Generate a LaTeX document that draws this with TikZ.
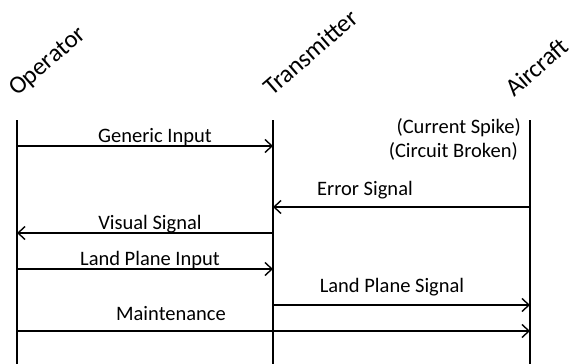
\documentclass[tikz,border=0pt]{standalone}
\usepackage{fontspec}
\setmainfont{Carlito}
\usetikzlibrary{arrows.meta}
\begin{document}
\begin{tikzpicture}[x=1pt,y=-1pt,
  lifeline/.style={line width=1.6pt},
  msg/.style={line width=1.4pt,-{Straight Barb[length=7pt,width=13pt,line width=1.4pt]}},
  actor/.style={font=\fontsize{25}{29}\selectfont,rotate=41,anchor=base west,inner sep=0pt},
  lbl/.style={font=\fontsize{20.5}{24}\selectfont,inner sep=0pt,anchor=base}]
\useasboundingbox (0,0) rectangle (579,364);

% actors
\node[actor] (opH) at (17,97) {Operator};
\node[actor] (trH) at (272,97) {Transmitter};
\node[actor] (acH) at (514,98) {Aircraft};

% lifelines
\coordinate (opT) at (17,120);  \coordinate (opB) at (17,364);
\coordinate (trT) at (273,120); \coordinate (trB) at (273,364);
\coordinate (acT) at (530,120); \coordinate (acB) at (530,364);
\draw[lifeline] (opT) -- (opB);
\draw[lifeline] (trT) -- (trB);
\draw[lifeline] (acT) -- (acB);

% message rows
\foreach \n/\y in {gi/146,es/207,vs/233,li/269,ls/305,mt/331}{
  \coordinate (op\n) at (17,\y);
  \coordinate (tr\n) at (273,\y);
  \coordinate (ac\n) at (530,\y);
}

\draw[msg] (opgi) -- (trgi);
\draw[msg] (aces) -- (tres);
\draw[msg] (trvs) -- (opvs);
\draw[msg] (opli) -- (trli);
\draw[msg] (trls) -- (acls);
\draw[msg] (opmt) -- (acmt);

% labels
\node[lbl] (lgi) at (155,142) {Generic Input};
\node[lbl,anchor=base east] (lcs) at (521,133) {(Current Spike)};
\node[lbl,anchor=base east] (lcb) at (518,157) {(Circuit Broken)};
\node[lbl] (les) at (365,195) {Error Signal};
\node[lbl] (lvs) at (150,229) {Visual Signal};
\node[lbl] (lli) at (150,265) {Land Plane Input};
\node[lbl] (lls) at (392,292) {Land Plane Signal};
\node[lbl] (lmt) at (171,320) {Maintenance};
\end{tikzpicture}
\end{document}
